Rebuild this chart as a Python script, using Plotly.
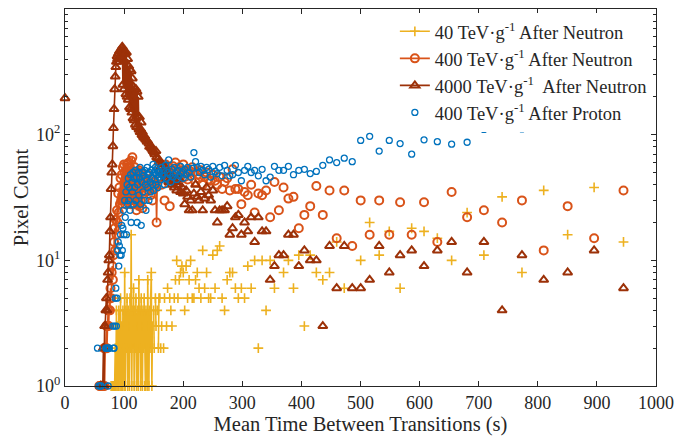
import plotly.graph_objects as go

# ---------------- data ----------------
# dense region: 1-s bins of mean time (55 .. 159 s)
dense_times = list(range(55, 160))

# sparse region: discrete mean-time values (s)
sparse_times = [
    160.5, 162.0, 163.6, 165.1, 166.8, 168.4, 170.1, 171.8, 173.6, 175.4,
    177.2, 179.1, 181.0, 182.9, 184.9, 186.9, 189.0, 191.1, 193.3, 195.5,
    197.8, 200.1, 202.5, 204.9, 207.4, 210.0, 212.6, 215.3, 218.1, 220.9,
    223.8, 226.8, 229.9, 233.0, 236.3, 239.6, 243.0, 246.5, 250.1, 253.9,
    257.7, 261.7, 265.8, 270.0, 274.4, 278.9, 283.5, 288.3, 293.3, 298.4,
    303.8, 309.3, 315.0, 320.9, 327.1, 333.5, 340.2, 347.1, 354.4, 361.9,
    369.8, 378.0, 386.6, 395.6, 405.0, 414.9, 425.3, 436.2, 447.6, 459.7,
    472.5, 486.0, 500.3, 515.5, 531.6, 548.7, 567.0, 586.6, 607.5, 630.0,
    654.2, 680.4, 708.8, 739.6, 773.2, 810.0, 850.5, 895.3, 945.0,
]

N = None

# 40 TeV/g after neutron
y40_dense = [
    N, N, N, N, N, N, N, N, N, N,
    N, N, N, N, N, N, N, N, N, N,
    N, N, N, 1, N, 1, N, 1, N, 1,
    2, 1, 4, 1, 3, 1, 4, 2, 1, 5,
    1, 3, 1, 4, 2, 1, 8, 1, 4, 2,
    5, 1, 4, 3, 1, 5, 2, 16, 1, 4,
    2, 6, 1, 4, 2, 5, 1, 3, 4, 1,
    7, 2, 4, 1, 5, 3, 1, 4, 2, 5,
    1, 1, 4, 2, 1, 7, 3, 1, 4, 2,
    5, 8, 1, 3, N, 4, 2, N, 5, 3,
    N, 4, N, 2, 5,
]
y40_sparse = [
    5, 2, 3, N, 2, 5, N, 3, 6, N,
    5, 4, 3, N, 5, 7, 10, 5, 7, 8,
    9, 8, 4, 9, 5, 7, 10, 5, 5, 7,
    8, 6, 5, 12, 6, 8, 5, 5, 11, 6,
    12, 13, 5, 4, 7, 8, 8, 6, 5, 6,
    5, 9, 6, 10, 2, 10, 4, 10, 6, N,
    8, 10, 6, 11, 3, 11, 8, 7, 8, 14,
    6, N, 10, 20, 11, 17, 6, 18, 17, 15,
    10, 24, 11, 32, 8, 36, 16, 38, 14,
]

# 400 TeV/g after neutron
y400_dense = [
    N, N, N, 1, 1, N, 1, 1, 1, 1,
    1, 2, 1, 2, 2, 3, 2, 3, 4, 3,
    5, 4, 6, 5, 8, 9, 7, 11, 14, 18,
    12, 21, 16, 25, 20, 34, 24, 38, 28, 45,
    30, 48, 33, 55, 30, 58, 50, 28, 52, 30,
    58, 32, 55, 60, 30, 55, 28, 62, 30, 66,
    33, 50, 28, 55, 30, 48, 25, 50, 28, 45,
    52, 27, 48, 30, 42, 50, 26, 44, N, 38,
    45, N, 35, 42, N, 48, 36, N, 40, N,
    33, 45, N, 30, N, 40, N, 42, N, 38,
    20, 40, N, 44, N,
]
y400_sparse = [
    45, 52, 40, 55, 48, 30, 58, 50, 45, 55,
    27, 52, 48, 56, 42, 60, 50, 45, 55, 48,
    52, 58, 46, 50, 44, 52, 47, 55, 50, 42,
    48, 45, 52, 40, 46, 50, 44, 43, 48, 43,
    40, 46, 37, 42, 45, 36, 53, 37, 37, 28,
    35, 33, 40, 24, 34, 33, 36, 22, 42, 25,
    38, 31, 32, 18, 23, 27, 39, 23, 36, 15,
    36, 13, 30, 16, 30, 16, 29, 16, 29, 14,
    35, 22, 25, 20, 30, 12, 27, 15, 36,
]

# 4000 TeV/g after neutron
y4000_zero = 195
y4000_dense = [
    N, N, N, N, N, 1, 1, N, 1, 1,
    2, 1, 3, 3, 4, 5, 4, 7, 8, 10,
    11, 17, 22, 37, 50, 58, 81, 113, 160, 230,
    290, 345, 380, 420, 400, 440, 380, 460, 400, 470,
    430, 490, 500, 250, 470, 230, 450, 440, 210, 450,
    200, 400, 190, 350, 165, 330, 160, 320, 150, 280,
    135, 240, 130, 230, 120, 230, 115, 220, 140, 200,
    110, 138, 105, 110, 125, 100, 105, 98, 95, N,
    97, 92, N, 90, 88, 89, N, 85, 80, N,
    82, 78, N, 76, 74, N, 72, 70, N, 74,
    66, N, 64, N, 60,
]
y4000_sparse = [
    62, 55, 58, 50, 52, 48, 55, 45, 50, 42,
    47, 44, 40, 46, 38, 42, 36, 40, 44, 35,
    38, 34, 28, 36, 32, 25, 30, 25, 34, 40,
    32, 30, 35, 25, 31, 38, 33, 30, 36, 25,
    20, 25, 25, 25, 27, 16, 18, 22, 23, 16,
    20, 17, 22, 14, 22, 17, 17, 7, 9, 11,
    11, 16, 16, 9, 12, 10, 10, 3, 13, 6,
    13, 6, 6, 7, 13, 8, 11, 12, 9, 12,
    14, 8, 14, 4, 11, 7, 8, 12, 6,
]

# 400 TeV/g after proton
yp_dense = [
    2, N, 1, N, N, 1, 1, N, N, N,
    N, N, N, N, 2, 2, N, 2, 1, 2,
    2, N, N, N, N, N, 3, 2, 2, 3,
    5, 6, 3, 5, 12, 14, 9, 13, 11, 16,
    11, 19, 12, 18, 25, 16, 30, 22, 35, 16,
    40, 28, 45, 30, 38, 25, 48, 20, 42, 35,
    50, 28, 45, 38, 52, 30, 46, 20, 40, 50,
    33, 45, 55, 28, 19, 42, 50, 35, 47, 30,
    52, 40, 25, 44, 55, 38, 48, 30, 50, 42,
    35, 52, 45, 40, 58, 36, 50, 44, 55, 40,
    48, 52, 38, 50, 46,
]
yp_sparse = [
    50, 44, 55, 47, 52, 40, 57, 45, 50, 63,
    48, 42, 53, 46, 55, 49, 44, 52, 47, 56,
    50, 45, 53, 48, 55, 50, 46, 54, 72, 61,
    55, 50, 56, 52, 48, 55, 53, 46, 56, 51,
    49, 55, 47, 57, 52, 47, 48, 57, 50, 43,
    52, 56, 50, 52, 47, 53, 43, 46, 56, 52,
    52, 56, 48, 52, 53, 49, 51, 57, 63, 60,
    65, 61, 90, 97, 74, 90, 85, 70, 91, 88,
    84, 87, 110, 130, 111, 135, 122, 140, 150,
]

x_ticks = [0, 100, 200, 300, 400, 500, 600, 700, 800, 900, 1000]
y_ticks = [1, 10, 100, 1000]
y_ticktext = ["10<sup>0</sup>", "10<sup>1</sup>", "10<sup>2</sup>", "10<sup>3</sup>"]
y_minor = [2, 3, 4, 5, 6, 7, 8, 9, 20, 30, 40, 50, 60, 70, 80, 90,
           200, 300, 400, 500, 600, 700, 800, 900]

for name, arr, ref in [("y40_dense", y40_dense, dense_times), ("y400_dense", y400_dense, dense_times),
                       ("y4000_dense", y4000_dense, dense_times), ("yp_dense", yp_dense, dense_times),
                       ("y40_sparse", y40_sparse, sparse_times), ("y400_sparse", y400_sparse, sparse_times),
                       ("y4000_sparse", y4000_sparse, sparse_times), ("yp_sparse", yp_sparse, sparse_times)]:
    if len(arr) != len(ref):
        raise ValueError(f"{name}: {len(arr)} vs {len(ref)}")


def build(dense, sparse, extra=None):
    xs, ys = [], []
    if extra is not None:
        xs += [extra[0], None]
        ys += [extra[1], None]
    xs += dense_times + [None]
    ys += dense + [None]
    for xv, yv in zip(sparse_times, sparse):
        if yv is None:
            continue
        xs += [xv, None]
        ys += [yv, None]
    return xs, ys


FONT = "Liberation Serif"
C40, C400, C4000, CP = "#EDB120", "#D95319", "#9C3108", "#0072BD"

fig = go.Figure()

x, y = build(y40_dense, y40_sparse)
fig.add_trace(go.Scatter(
    x=x, y=y, mode="lines+markers", name="40 TeV·g<sup>-1</sup> After Neutron",
    line=dict(color=C40, width=1.6),
    marker=dict(symbol="cross-thin", size=7, line=dict(color=C40, width=1.6), color=C40),
    cliponaxis=False, connectgaps=False))

x, y = build(y400_dense, y400_sparse)
fig.add_trace(go.Scatter(
    x=x, y=y, mode="lines+markers", name="400 TeV·g<sup>-1</sup> After Neutron",
    line=dict(color=C400, width=1.6),
    marker=dict(symbol="circle-open", size=8, line=dict(color=C400, width=2), color=C400),
    cliponaxis=False, connectgaps=False))

x, y = build(y4000_dense, y4000_sparse, extra=(0, y4000_zero))
fig.add_trace(go.Scatter(
    x=x, y=y, mode="lines+markers", name="4000 TeV·g<sup>-1</sup>\u00a0 After Neutron",
    line=dict(color=C4000, width=1.6),
    marker=dict(symbol="triangle-up-open", size=8, line=dict(color=C4000, width=2), color=C4000),
    cliponaxis=False, connectgaps=False))

x, y = build(yp_dense, yp_sparse)
fig.add_trace(go.Scatter(
    x=x, y=y, mode="markers", name="400 TeV·g<sup>-1</sup> After Proton",
    marker=dict(symbol="circle-open", size=6, line=dict(color=CP, width=1.3), color=CP),
    cliponaxis=False))

axis_common = dict(
    showline=True, linecolor="#262626", linewidth=1, mirror="ticks",
    ticks="inside", tickcolor="#262626", ticklen=5, showgrid=False, zeroline=False,
    tickfont=dict(family=FONT, size=18, color="#262626"),
)

fig.update_layout(
    width=697, height=441,
    margin=dict(l=65, r=41, t=9, b=55),
    paper_bgcolor="white", plot_bgcolor="white",
    font=dict(family=FONT, size=18, color="#262626"),
    legend=dict(x=0.993, xanchor="right", y=0.99, yanchor="top",
                bgcolor="white", font=dict(family=FONT, size=18.5, color="#262626"),
                itemwidth=30, tracegroupgap=0),
    xaxis=dict(range=[0, 1000], tickmode="array", tickvals=x_ticks,
               title=dict(text="Mean Time Between Transitions (s)",
                          font=dict(family=FONT, size=20.5, color="#262626"), standoff=3),
               automargin=False, **axis_common),
    yaxis=dict(type="log", range=[0, 3], tickmode="array", tickvals=y_ticks, ticktext=y_ticktext,
               minor=dict(tickmode="array", tickvals=y_minor, ticks="inside", ticklen=3,
                          tickcolor="#262626", showgrid=False),
               title=dict(text="Pixel Count", font=dict(family=FONT, size=20.5, color="#262626"),
                          standoff=1),
               automargin=False, **axis_common),
)

fig.write_html("out.html")
